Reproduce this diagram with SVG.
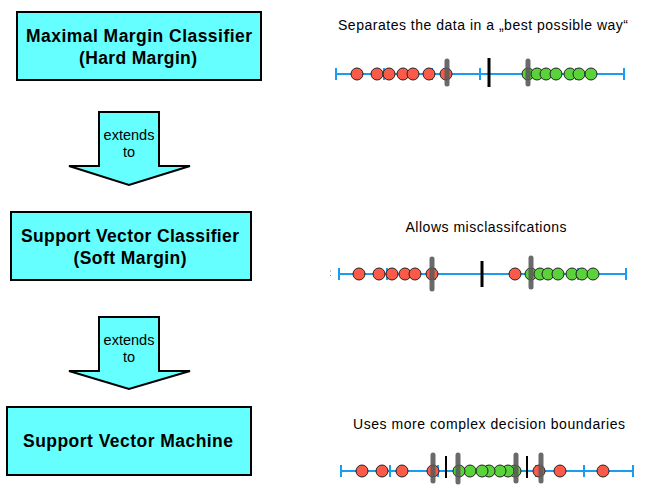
<svg xmlns="http://www.w3.org/2000/svg" width="664" height="492" viewBox="0 0 664 492">
  <style>
    .box { fill: #66ffff; stroke: #000; stroke-width: 2; }
    .arrow { fill: #66ffff; stroke: #000; stroke-width: 2; stroke-linejoin: miter; }
    .title { font-family: "Liberation Sans", Arial, sans-serif; font-weight: bold; font-size: 17.5px; fill: #000; text-anchor: middle; }
    .lbl { font-family: "Liberation Sans", Arial, sans-serif; font-size: 14.5px; fill: #000; text-anchor: middle; }
    .cap { font-family: "Liberation Sans", Arial, sans-serif; font-size: 14px; fill: #000; text-anchor: middle; }
    .axis { stroke: #1a9cf0; stroke-width: 2; fill: none; }
    .red { fill: #fb5a48; stroke: #222; stroke-width: 1; }
    .green { fill: #5ad23a; stroke: #222; stroke-width: 1; }
    .margin { stroke: #5a5a5a; stroke-opacity: 0.9; stroke-width: 5; stroke-linecap: round; }
    .sep { stroke: #000; stroke-width: 3; }
    .sep2 { stroke: #000; stroke-width: 2; }
  </style>

  <!-- Classifier boxes -->
  <g id="maximal-margin">
    <rect class="box" x="17" y="12" width="244" height="68"/>
    <text class="title" x="139" y="42" textLength="226" lengthAdjust="spacing">Maximal Margin Classifier</text>
    <text class="title" x="138" y="64" textLength="118" lengthAdjust="spacing">(Hard Margin)</text>
  </g>

  <g id="support-vector-classifier">
    <rect class="box" x="11" y="212" width="240" height="68"/>
    <text class="title" x="130" y="242" textLength="218" lengthAdjust="spacing">Support Vector Classifier</text>
    <text class="title" x="130" y="264" textLength="113" lengthAdjust="spacing">(Soft Margin)</text>
  </g>

  <g id="support-vector-machine">
    <rect class="box" x="7" y="407" width="244" height="68"/>
    <text class="title" x="128" y="447" textLength="210" lengthAdjust="spacing">Support Vector Machine</text>
  </g>

  <!-- "extends to" block arrows -->
  <g id="connectors">
    <g id="extends-1">
      <path class="arrow" d="M99,112 H159 V166 H190 L129,185 L69,166 H99 Z"/>
      <text class="lbl" x="129" y="140">extends</text>
      <text class="lbl" x="129" y="157">to</text>
    </g>
    <g id="extends-2">
      <path class="arrow" d="M99,317 H159 V371 H190 L129,389 L69,371 H99 Z"/>
      <text class="lbl" x="129" y="345">extends</text>
      <text class="lbl" x="129" y="362">to</text>
    </g>
  </g>

  <!-- Hard margin: 1-D data -->
  <g id="plot-hard">
    <text class="cap" x="483" y="30" textLength="290" lengthAdjust="spacing">Separates the data in a „best possible way“</text>
    <line class="axis" x1="336" y1="74" x2="624" y2="74"/>
    <path class="axis" d="M336,68V80 M384,68V80 M432,68V80 M480,68V80 M528,68V80 M576,68V80 M624,68V80"/>
    <g class="red">
      <circle cx="357" cy="74" r="6"/><circle cx="377" cy="74" r="6"/><circle cx="389" cy="74" r="6"/>
      <circle cx="403" cy="74" r="6"/><circle cx="413" cy="74" r="6"/><circle cx="429" cy="74" r="6"/>
      <circle cx="446" cy="74" r="6"/>
    </g>
    <g class="green">
      <circle cx="528" cy="74" r="6"/><circle cx="537" cy="74" r="6"/><circle cx="546" cy="74" r="6"/>
      <circle cx="556" cy="74" r="6"/><circle cx="570" cy="74" r="6"/><circle cx="579" cy="74" r="6"/>
      <circle cx="591" cy="74" r="6"/>
    </g>
    <line class="margin" x1="447" y1="61" x2="447" y2="84"/>
    <line class="margin" x1="528" y1="61" x2="528" y2="84"/>
    <line class="sep" x1="489" y1="58" x2="489" y2="87"/>
  </g>

  <!-- Soft margin: 1-D data -->
  <g id="plot-soft">
    <text class="cap" x="486" y="232" textLength="161" lengthAdjust="spacing">Allows misclassifcations</text>
    <g fill="#888"><rect x="330" y="270.5" width="1" height="1"/><rect x="330" y="275" width="1" height="1"/></g>
    <line class="axis" x1="339" y1="274" x2="626" y2="274"/>
    <path class="axis" d="M339,268V280 M387,268V280 M435,268V280 M530,268V280 M578,268V280 M626,268V280"/>
    <g class="red">
      <circle cx="359" cy="274" r="6"/><circle cx="379" cy="274" r="6"/><circle cx="392" cy="274" r="6"/>
      <circle cx="405" cy="274" r="6"/><circle cx="415" cy="274" r="6"/><circle cx="432" cy="274" r="6"/>
      <circle cx="515" cy="274" r="6"/>
    </g>
    <g class="green">
      <circle cx="531" cy="274" r="6"/><circle cx="540" cy="274" r="6"/><circle cx="548" cy="274" r="6"/>
      <circle cx="558" cy="274" r="6"/><circle cx="572" cy="274" r="6"/><circle cx="582" cy="274" r="6"/>
      <circle cx="593" cy="274" r="6"/>
    </g>
    <line class="margin" x1="432" y1="259" x2="432" y2="289"/>
    <line class="margin" x1="531" y1="258" x2="531" y2="287"/>
    <line class="sep" x1="482" y1="261" x2="482" y2="287"/>
  </g>

  <!-- Non-linear boundaries: 1-D data -->
  <g id="plot-svm">
    <text class="cap" x="489" y="429" textLength="272" lengthAdjust="spacing">Uses more complex decision boundaries</text>
    <line class="axis" x1="341" y1="471" x2="633" y2="471"/>
    <path class="axis" d="M341,465V477 M390,465V477 M438,465V477 M487,465V477 M536,465V477 M584,465V477 M633,465V477"/>
    <g class="red">
      <circle cx="362" cy="471" r="6"/><circle cx="382" cy="471" r="6"/><circle cx="402" cy="471" r="6"/>
      <circle cx="433" cy="471" r="6"/><circle cx="539" cy="471" r="6"/><circle cx="560" cy="471" r="6"/>
      <circle cx="603" cy="471" r="6"/>
    </g>
    <g class="green">
      <circle cx="515" cy="471" r="6"/><circle cx="508" cy="471" r="6"/><circle cx="500" cy="471" r="6"/>
      <circle cx="489" cy="471" r="6"/><circle cx="482" cy="471" r="6"/><circle cx="470" cy="471" r="6"/>
      <circle cx="459" cy="471" r="6"/>
    </g>
    <line class="margin" x1="433" y1="455" x2="433" y2="481"/>
    <line class="margin" x1="458" y1="455" x2="458" y2="482"/>
    <line class="margin" x1="516" y1="455" x2="516" y2="481"/>
    <line class="margin" x1="541" y1="455" x2="541" y2="481"/>
    <line class="sep2" x1="446" y1="456" x2="446" y2="478"/>
    <line class="sep2" x1="527" y1="456" x2="527" y2="478"/>
  </g>
</svg>
